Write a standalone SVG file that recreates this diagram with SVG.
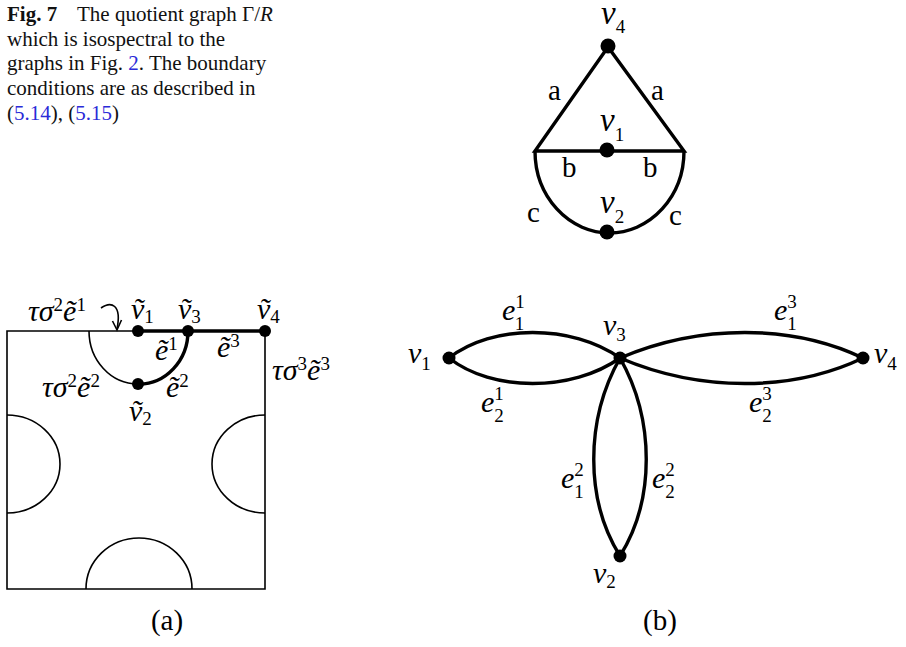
<svg xmlns="http://www.w3.org/2000/svg" width="906" height="647" viewBox="0 0 906 647">
<style>
.cap{font-family:"Liberation Serif","Times New Roman",serif;font-size:21px;fill:#111}
.lnk{fill:#2a2ad8}
.m{font-family:"Liberation Serif","Times New Roman",serif;font-style:italic;font-size:30px;fill:#000}
.mt{font-family:"Liberation Serif","Times New Roman",serif;font-style:italic;font-size:33px;fill:#000}
.r{font-family:"Liberation Serif","Times New Roman",serif;font-size:29px;fill:#000}
.s{font-size:19px;font-style:normal}
.thin{fill:none;stroke:#000;stroke-width:1.6}
.thick{fill:none;stroke:#000;stroke-width:3.4}
.dot{fill:#000}
</style>
<!-- caption -->
<g id="caption">
<text class="cap" x="7" y="21"><tspan font-weight="bold">Fig. 7</tspan></text>
<text class="cap" x="77" y="21">The quotient graph Γ/<tspan font-style="italic">R</tspan></text>
<text class="cap" x="7" y="45.5">which is isospectral to the</text>
<text class="cap" x="7" y="70">graphs in Fig. <tspan class="lnk">2</tspan>. The boundary</text>
<text class="cap" x="7" y="95">conditions are as described in</text>
<text class="cap" x="7" y="120">(<tspan class="lnk">5.14</tspan>), (<tspan class="lnk">5.15</tspan>)</text>
</g>

<!-- top quotient graph -->
<g id="top-connectors">
<path class="thick" d="M608,47 L535,151 L684,151 Z"/>
<path class="thick" d="M535,151 A74.5,82 0 0 0 684,151"/>
</g>
<g id="top-v4"><circle class="dot" cx="608" cy="46" r="7.5"/><text class="mt" x="601" y="24" font-size="32">v<tspan class="s" font-size="20" dy="9">4</tspan></text></g>
<g id="top-v1"><circle class="dot" cx="607" cy="150" r="7.5"/><text class="mt" x="600" y="131">v<tspan class="s" font-size="20" dy="10">1</tspan></text></g>
<g id="top-v2"><circle class="dot" cx="607" cy="232" r="7.5"/><text class="mt" x="600" y="213">v<tspan class="s" font-size="20" dy="10">2</tspan></text></g>
<g id="top-edge-labels">
<text class="r" x="548" y="100">a</text>
<text class="r" x="651" y="100">a</text>
<text class="r" x="562" y="177">b</text>
<text class="r" x="643" y="177">b</text>
<text class="r" x="527" y="222">c</text>
<text class="r" x="669" y="225">c</text>
</g>

<!-- panel (a) -->
<g id="panel-a">
<path class="thin" d="M138,331 H7 V589 H265 V331"/>
<path class="thin" d="M89,331 A49,53 0 0 0 138,384"/>
<path class="thin" d="M7,415 A53,49 0 0 1 7,513"/>
<path class="thin" d="M265,415 A53,49 0 0 0 265,513"/>
<path class="thin" d="M86,589 A53,51 0 0 1 192,589"/>
<path class="thin" d="M101,308 C111,301 122,304 117,329"/>
<path class="thin" d="M112.5,321 L117,330 L121.5,320"/>
</g>
<g id="a-connectors">
<path class="thick" d="M138,331 H265"/>
<path class="thick" d="M138,384 A49,53 0 0 0 188,331"/>
</g>
<g id="a-v1"><circle class="dot" cx="138" cy="331" r="6"/><text class="m" x="131" y="319">ṽ<tspan class="s" dy="4">1</tspan></text></g>
<g id="a-v3"><circle class="dot" cx="188" cy="331" r="6"/><text class="m" x="178" y="319">ṽ<tspan class="s" dy="4">3</tspan></text></g>
<g id="a-v4"><circle class="dot" cx="265" cy="331" r="6"/><text class="m" x="257" y="319">ṽ<tspan class="s" dy="4">4</tspan></text></g>
<g id="a-v2"><circle class="dot" cx="138" cy="384" r="6"/><text class="m" x="129" y="421">ṽ<tspan class="s" dy="4">2</tspan></text></g>
<g id="a-labels">
<text class="m" x="28" y="321">τσ<tspan class="s" dy="-10">2</tspan><tspan dy="10">ẽ</tspan><tspan class="s" dy="-10">1</tspan></text>
<text class="m" x="155" y="360">ẽ<tspan class="s" dy="-10">1</tspan></text>
<text class="m" x="217" y="357">ẽ<tspan class="s" dy="-10">3</tspan></text>
<text class="m" x="272" y="380">τσ<tspan class="s" dy="-10">3</tspan><tspan dy="10">ẽ</tspan><tspan class="s" dy="-10">3</tspan></text>
<text class="m" x="42" y="397">τσ<tspan class="s" dy="-10">2</tspan><tspan dy="10">ẽ</tspan><tspan class="s" dy="-10">2</tspan></text>
<text class="m" x="166" y="397">ẽ<tspan class="s" dy="-10">2</tspan></text>
</g>
<text class="r" x="167" y="630" text-anchor="middle" font-size="31">(a)</text>

<!-- panel (b) -->
<g id="b-connectors">
<path class="thick" d="M449,358 C492,324 572,324 620,358"/>
<path class="thick" d="M449,358 C492,392 572,392 620,358"/>
<path class="thick" d="M620,358 C700,324 792,324 863,358"/>
<path class="thick" d="M620,358 C700,392 792,392 863,358"/>
<path class="thick" d="M620,358 C585,420 585,500 620,556"/>
<path class="thick" d="M620,358 C655,420 655,500 620,556"/>
</g>
<g id="b-v1"><circle class="dot" cx="449" cy="358" r="6.5"/><text class="m" x="408" y="363">v<tspan class="s" dy="7">1</tspan></text></g>
<g id="b-v3"><circle class="dot" cx="620" cy="358" r="6.5"/><text class="m" x="603" y="335">v<tspan class="s" dy="6">3</tspan></text></g>
<g id="b-v4"><circle class="dot" cx="863" cy="358" r="6.5"/><text class="m" x="874" y="363">v<tspan class="s" dy="7">4</tspan></text></g>
<g id="b-v2"><circle class="dot" cx="620" cy="556" r="6.5"/><text class="m" x="593" y="583">v<tspan class="s" dy="5">2</tspan></text></g>
<g id="b-labels">
<text class="m" x="502" y="320">e<tspan class="s" dy="-12">1</tspan><tspan class="s" dx="-9.5" dy="22">1</tspan></text>
<text class="m" x="481" y="412">e<tspan class="s" dy="-12">1</tspan><tspan class="s" dx="-9.5" dy="22">2</tspan></text>
<text class="m" x="774" y="320">e<tspan class="s" dy="-12">3</tspan><tspan class="s" dx="-9.5" dy="22">1</tspan></text>
<text class="m" x="749" y="412">e<tspan class="s" dy="-12">3</tspan><tspan class="s" dx="-9.5" dy="22">2</tspan></text>
<text class="m" x="561" y="488">e<tspan class="s" dy="-12">2</tspan><tspan class="s" dx="-9.5" dy="22">1</tspan></text>
<text class="m" x="652" y="488">e<tspan class="s" dy="-12">2</tspan><tspan class="s" dx="-9.5" dy="22">2</tspan></text>
</g>
<text class="r" x="660" y="630" text-anchor="middle" font-size="31">(b)</text>
</svg>
